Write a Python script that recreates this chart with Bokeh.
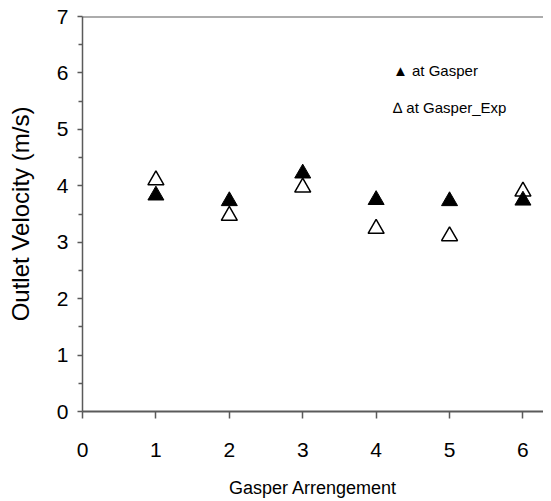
from bokeh.plotting import figure
from bokeh.models import Range1d, Span, Label, FixedTicker
from bokeh.embed import file_html
from bokeh.resources import INLINE

# data
arrangement = [1, 2, 3, 4, 5, 6]
at_gasper = [3.83, 3.73, 4.22, 3.75, 3.73, 3.74]
at_gasper_exp = [4.10, 3.47, 3.97, 3.24, 3.11, 3.90]
x_ticks = [0, 1, 2, 3, 4, 5, 6]
y_ticks = [0, 1, 2, 3, 4, 5, 6, 7]
legend_labels = ["\u25b2 at Gasper", "\u2206 at Gasper_Exp"]

FONT = "Liberation Sans"
AX = "#5a5a5a"

p = figure(width=543, height=500, output_backend="svg", toolbar_location=None,
           x_range=Range1d(0, 6.28), y_range=Range1d(0, 7),
           min_border_left=82, min_border_right=0, min_border_top=16, min_border_bottom=89,
           x_axis_label="Gasper Arrengement", y_axis_label="Outlet Velocity (m/s)")
p.outline_line_color = None
p.grid.visible = False
p.background_fill_color = "white"
p.border_fill_color = "white"

# x axis
xa = p.xaxis[0]
xa.ticker = FixedTicker(ticks=x_ticks)
xa.axis_line_color = AX
xa.axis_line_width = 2
xa.major_tick_line_color = AX
xa.major_tick_line_width = 1.5
xa.major_tick_in = 0
xa.major_tick_out = 7
xa.minor_tick_line_color = None
xa.major_label_text_font = FONT
xa.major_label_text_font_size = "21px"
xa.major_label_text_color = "black"
xa.major_label_standoff = 24
xa.axis_label_text_font = FONT
xa.axis_label_text_font_size = "18px"
xa.axis_label_text_font_style = "normal"
xa.axis_label_text_color = "black"
xa.axis_label_standoff = 18

# y axis
ya = p.yaxis[0]
ya.ticker = FixedTicker(ticks=y_ticks, minor_ticks=[v + 0.5 for v in y_ticks[:-1]])
ya.axis_line_color = AX
ya.axis_line_width = 1.5
ya.major_tick_line_color = AX
ya.major_tick_line_width = 1.5
ya.major_tick_in = 0
ya.major_tick_out = 5
ya.minor_tick_line_color = AX
ya.minor_tick_line_width = 1.5
ya.minor_tick_in = 0
ya.minor_tick_out = 4
ya.major_label_text_font = FONT
ya.major_label_text_font_size = "21px"
ya.major_label_text_color = "black"
ya.major_label_standoff = 9
ya.axis_label_text_font = FONT
ya.axis_label_text_font_size = "24px"
ya.axis_label_text_font_style = "normal"
ya.axis_label_text_color = "black"
ya.axis_label_standoff = 20

# top border line
p.add_layout(Span(location=7, dimension="width", line_color=AX, line_width=2))

# data markers
p.scatter(arrangement, at_gasper_exp, marker="triangle", size=16,
          fill_color="white", line_color="black", line_width=1.5)
p.scatter(arrangement, at_gasper, marker="triangle", size=16,
          fill_color="black", line_color="black", line_width=1)

# legend text
for i, lab in enumerate(legend_labels):
    p.add_layout(Label(x=4.23, y=6.04 - i * 0.65, text=lab, text_font=FONT,
                       text_font_size="15px", text_baseline="middle", text_color="black"))

open("out.html", "w").write(file_html(p, INLINE))
